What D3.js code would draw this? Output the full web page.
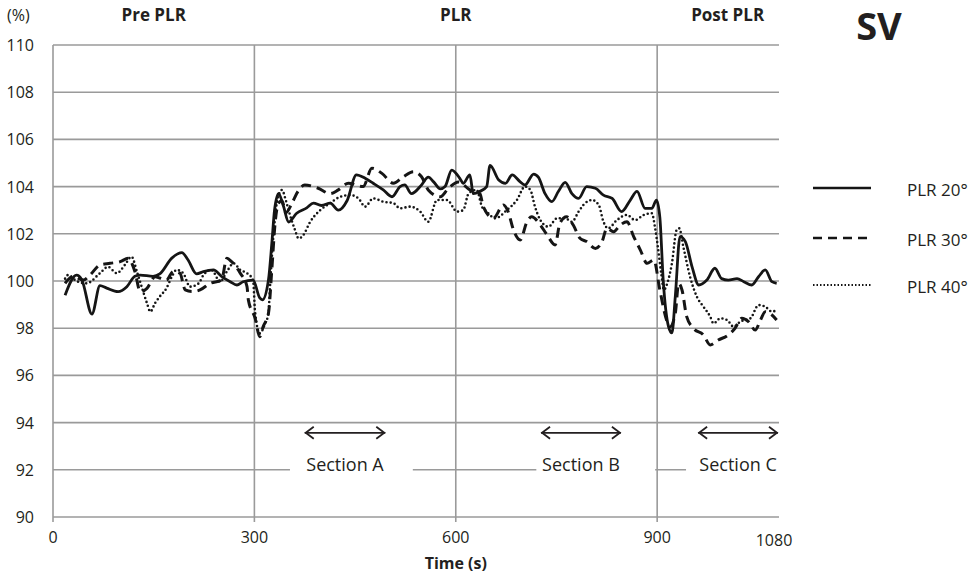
<!DOCTYPE html>
<html><head><meta charset="utf-8">
<script src="https://cdn.jsdelivr.net/npm/d3@7"></script>
<style>body{margin:0;background:#fff;} text{font-family:"Open Sans",sans-serif;fill:#231f20;}</style>
</head><body><svg id="c" width="972" height="578"></svg>
<script>
const yTicks = [90,92,94,96,98,100,102,104,106,108,110];
const xTicks = [0,300,600,900,1080];
const phaseLabels = ["Pre PLR","PLR","Post PLR"];
const phaseCenters = [150,600,1005];
const sectionLabels = ["Section A","Section B","Section C"];
const sectionStart = [375,727,961];
const sectionEnd = [495,846,1080];
const sectionGapStart = [353,720,943];
const sectionGapEnd = [536,897,1090];
const seriesNames = ["PLR 20°","PLR 30°","PLR 40°"];

const t20 = [18,35,43,58,70,80,97,110,122,130,149,159,177,192,201,214,224,239,251,264,274,283,298,308,312,321,326,330,336,343,351,363,378,388,400,413,425,438,452,465,477,492,505,517,524,534,549,559,567,577,584,594,606,611,621,626,636,646,651,664,674,684,696,703,716,723,733,743,753,763,773,783,795,808,820,833,847,860,870,882,892,899,904,909,917,922,927,934,942,952,962,974,986,996,1006,1019,1029,1041,1051,1061,1071,1078];
const v20 = [99.4,100.25,100.05,98.6,99.8,99.7,99.55,99.76,100.2,100.25,100.2,100.3,100.97,101.2,100.9,100.3,100.4,100.47,100.2,99.97,99.83,99.97,100.04,99.28,99.2,100.05,101.6,103.0,103.7,103.2,102.5,102.87,103.1,103.3,103.2,103.3,103.0,103.4,104.5,104.35,104.14,103.86,103.57,104.0,104.07,103.7,104.07,104.4,104.2,103.9,104.0,104.7,104.35,104.14,104.5,103.7,103.8,104.0,104.9,104.28,104.14,104.5,104.2,104.07,104.53,104.4,103.7,103.36,103.8,104.18,103.7,103.5,104.0,103.93,103.64,103.5,102.94,103.43,103.8,103.08,103.08,103.43,102.7,100.04,98.06,97.8,99.34,101.88,101.67,100.6,99.83,100.04,100.54,100.1,100.04,100.1,99.97,99.83,100.18,100.47,99.97,99.9];

const t30 = [18,22,30,45,55,70,85,100,112,122,130,140,152,169,179,189,197,207,219,234,251,259,266,279,289,291,301,308,313,321,326,331,336,341,347,356,365,375,395,413,425,440,462,475,490,507,522,537,549,559,577,589,604,621,636,641,656,671,678,686,696,706,713,726,736,748,755,765,775,785,795,808,818,825,835,845,855,865,875,885,895,904,914,919,927,932,937,944,954,969,979,991,1006,1016,1026,1036,1046,1054,1061,1071,1078];
const v30 = [99.9,100.04,100.2,100.04,100.25,100.68,100.75,100.82,100.96,100.4,99.55,99.69,100.18,100.04,100.4,100.33,99.62,99.55,99.62,99.9,100.04,100.96,100.82,100.33,99.76,99.2,98.43,97.64,98.06,98.64,100.5,102.5,103.3,103.4,102.9,103.3,103.8,104.07,103.93,103.7,103.86,104.14,104.0,104.78,104.56,104.14,104.42,104.63,104.42,103.86,103.57,103.93,104.2,103.86,103.7,103.15,102.66,103.22,102.94,102.16,101.74,102.51,102.72,102.37,101.95,101.53,102.44,102.72,102.37,101.81,101.67,101.38,101.67,102.23,102.09,102.37,102.51,101.88,101.31,100.75,100.89,99.62,98.35,98.06,98.63,99.9,99.62,98.49,98.0,97.71,97.29,97.5,97.71,98.0,98.42,98.28,97.92,98.35,98.7,98.56,98.35];

const t40 = [18,22,35,50,70,82,95,107,117,125,132,140,145,152,159,169,177,184,194,204,217,224,236,249,259,269,279,289,298,301,308,316,321,323,328,334,341,347,353,360,366,373,383,398,413,428,443,455,465,477,492,507,517,532,547,559,572,587,602,611,619,631,639,646,659,676,691,703,711,718,726,738,751,763,773,783,790,803,813,820,827,840,855,867,880,892,897,901,906,910,915,922,929,933,939,949,959,969,979,984,994,1004,1014,1024,1039,1051,1061,1071,1078];
const v40 = [100.1,100.25,100.0,99.9,100.33,100.6,100.33,100.68,101.03,100.4,99.76,99.06,98.7,99.06,99.34,99.69,100.18,100.47,100.33,99.76,99.9,100.25,100.47,99.97,100.4,100.75,100.47,100.33,100.04,98.7,97.78,98.2,98.63,99.62,101.8,103.4,103.86,103.4,102.8,102.2,101.8,101.95,102.5,103.0,103.3,103.57,103.64,103.5,103.15,103.5,103.36,103.3,103.08,103.15,102.94,102.51,103.43,103.43,102.94,103.0,103.7,103.86,103.15,102.94,102.66,103.0,103.43,104.0,103.86,103.15,102.58,102.3,102.66,102.66,102.51,102.94,103.22,103.43,103.22,102.51,102.23,102.58,102.8,102.58,102.8,102.87,102.23,101.45,100.33,99.62,99.9,100.75,102.16,102.23,101.45,100.18,99.34,98.91,98.49,98.2,98.42,98.35,98.06,98.28,98.42,98.98,98.91,98.7,98.77];

const svg = d3.select("#c");
const x = d3.scaleLinear().domain([0,1080]).range([53,778]);
const y = d3.scaleLinear().domain([90,110]).range([517,45]);
const grid = "#9a9a9a";
const ink = "#151515";

// horizontal gridlines
svg.append("g").selectAll("line").data(yTicks).join("line")
  .attr("x1", x(0)).attr("x2", x(1080)+1)
  .attr("y1", d=>y(d)).attr("y2", d=>y(d))
  .attr("stroke", grid).attr("stroke-width", 1.6);

// white gaps behind section labels on the 92 line
svg.append("g").selectAll("rect").data(sectionLabels).join("rect")
  .attr("x", (d,i)=>x(sectionGapStart[i]))
  .attr("width", (d,i)=>x(sectionGapEnd[i])-x(sectionGapStart[i]))
  .attr("y", y(92)-3).attr("height", 6).attr("fill", "#fff");

// vertical gridlines + left axis
svg.append("g").selectAll("line").data(xTicks.slice(0,4)).join("line")
  .attr("x1", d=>x(d)).attr("x2", d=>x(d))
  .attr("y1", y(110)).attr("y2", y(90)+5)
  .attr("stroke", grid).attr("stroke-width", 1.6);

// y tick labels
svg.append("g").selectAll("text").data(yTicks).join("text")
  .attr("x", 34).attr("y", d=>y(d)+6)
  .attr("text-anchor","end").attr("font-size",16).text(d=>d);

// x tick labels
svg.append("g").selectAll("text").data(xTicks).join("text")
  .attr("x", d=> d===1080 ? x(d)-4 : x(d))
  .attr("y", d=> d===1080 ? 546 : 543)
  .attr("text-anchor","middle").attr("font-size",16).text(d=>d);

svg.append("text").attr("x", x(600)).attr("y", 569).attr("text-anchor","middle")
  .attr("font-size",16).attr("font-weight","bold").text("Time (s)");
svg.append("text").attr("x", 7).attr("y", 21).attr("font-size",16).text("(%)");

// phase titles
svg.append("g").selectAll("text").data(phaseLabels).join("text")
  .attr("x",(d,i)=>x(phaseCenters[i])).attr("y",21)
  .attr("text-anchor","middle").attr("font-size",17).attr("font-weight","bold").text(d=>d);

svg.append("text").attr("x", 879).attr("y", 40).attr("text-anchor","middle")
  .attr("font-size",38).attr("font-weight","bold").text("SV");

// series lines
const line = d3.line().x(d=>x(d[0])).y(d=>y(d[1])).curve(d3.curveMonotoneX);
const series = [
  {name: seriesNames[0], pts: d3.zip(t20, v20), dash: null, w: 2.8, cap: "butt"},
  {name: seriesNames[1], pts: d3.zip(t30, v30), dash: "10,6", w: 3, cap: "butt"},
  {name: seriesNames[2], pts: d3.zip(t40, v40), dash: "0,4.2", w: 2.6, cap: "round"}
];
svg.append("g").selectAll("path").data(series).join("path")
  .attr("d", d=>line(d.pts)).attr("fill","none").attr("stroke",ink)
  .attr("stroke-width", d=>d.w).attr("stroke-dasharray", d=>d.dash)
  .attr("stroke-linecap", d=>d.cap).attr("stroke-linejoin","round");

// section arrows and labels
const arrows = svg.append("g");
sectionLabels.forEach((s,i)=>{
  const x1 = x(sectionStart[i]), x2 = x(sectionEnd[i]), ya = y(92)-37;
  arrows.append("line").attr("x1",x1).attr("x2",x2).attr("y1",ya).attr("y2",ya)
    .attr("stroke","#231f20").attr("stroke-width",1.8);
  arrows.append("path").attr("d",`M${x1+9},${ya-6}L${x1+1},${ya}L${x1+9},${ya+6}`)
    .attr("fill","none").attr("stroke","#231f20").attr("stroke-width",1.8);
  arrows.append("path").attr("d",`M${x2-9},${ya-6}L${x2-1},${ya}L${x2-9},${ya+6}`)
    .attr("fill","none").attr("stroke","#231f20").attr("stroke-width",1.8);
  arrows.append("text").attr("x",(x1+x2)/2).attr("y",y(92)+1)
    .attr("text-anchor","middle").attr("font-size",18).text(s);
});

// legend
const legY = [188,238,285];
const leg = svg.append("g");
series.forEach((s,i)=>{
  leg.append("line").attr("x1",813).attr("x2",871).attr("y1",legY[i]).attr("y2",legY[i])
    .attr("stroke",ink).attr("stroke-width", i===2 ? 1.8 : 2.6)
    .attr("stroke-dasharray", i===1 ? "9,6" : (i===2 ? "1.5,2" : null));
  leg.append("text").attr("x",907).attr("y",legY[i]+8).attr("font-size",17).text(s.name);
});
</script></body></html>
